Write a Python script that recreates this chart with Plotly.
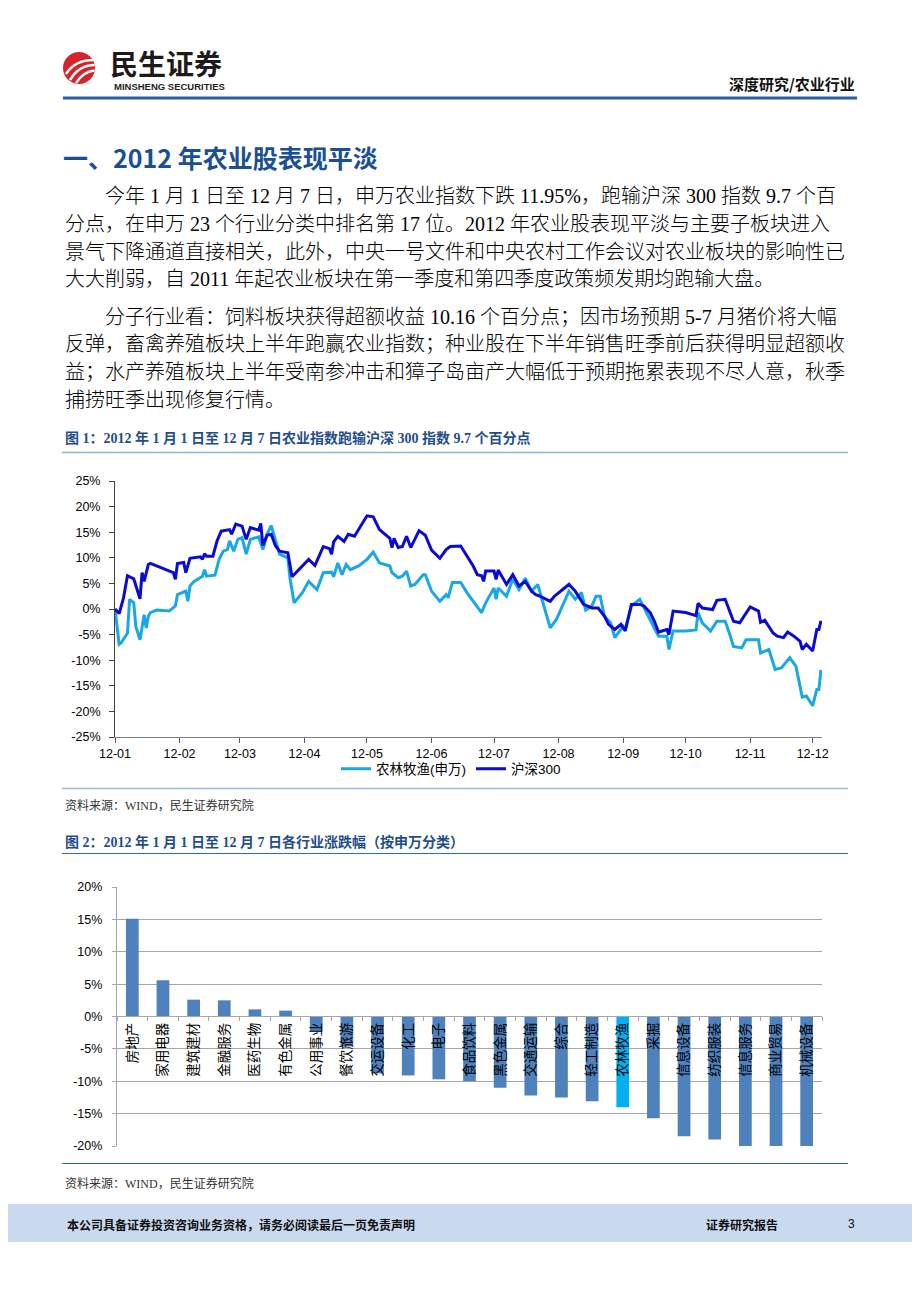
import plotly.graph_objects as go

# ---------------- data ----------------
# Figure 1: cumulative change since 2012-01-01 (%)
ag_dates = ["2012-01-01","2012-01-03","2012-01-04","2012-01-07","2012-01-08","2012-01-10","2012-01-11","2012-01-13",
            "2012-01-15","2012-01-16","2012-01-17","2012-01-18","2012-01-21","2012-01-27","2012-01-30","2012-01-31",
            "2012-02-04","2012-02-05","2012-02-06","2012-02-08","2012-02-12","2012-02-13","2012-02-14","2012-02-18",
            "2012-02-20","2012-02-22","2012-02-24","2012-02-25","2012-02-27","2012-02-29","2012-03-02","2012-03-04",
            "2012-03-06","2012-03-10","2012-03-12","2012-03-14","2012-03-16","2012-03-18","2012-03-20","2012-03-24",
            "2012-03-25","2012-03-27","2012-03-31","2012-04-03","2012-04-07","2012-04-10","2012-04-14","2012-04-15",
            "2012-04-17","2012-04-19","2012-04-21","2012-04-23","2012-04-27","2012-05-01","2012-05-04","2012-05-07",
            "2012-05-12","2012-05-13","2012-05-16","2012-05-18","2012-05-20","2012-05-22","2012-05-24","2012-05-28",
            "2012-05-29","2012-06-01","2012-06-05","2012-06-08","2012-06-09","2012-06-11","2012-06-15","2012-06-18",
            "2012-06-22","2012-06-25","2012-06-27","2012-07-01","2012-07-02","2012-07-03","2012-07-07","2012-07-10",
            "2012-07-13","2012-07-16","2012-07-19","2012-07-22","2012-07-24","2012-07-28","2012-07-31","2012-08-06",
            "2012-08-09","2012-08-12","2012-08-14","2012-08-17","2012-08-19","2012-08-21","2012-08-23","2012-08-26",
            "2012-08-28","2012-09-01","2012-09-02","2012-09-05","2012-09-09","2012-09-12","2012-09-15","2012-09-18",
            "2012-09-22","2012-09-23","2012-09-25","2012-10-01","2012-10-06","2012-10-07","2012-10-09","2012-10-13",
            "2012-10-16","2012-10-20","2012-10-22","2012-10-24","2012-10-28","2012-10-30","2012-11-05","2012-11-06",
            "2012-11-10","2012-11-13","2012-11-16","2012-11-20","2012-11-23","2012-11-25","2012-11-26","2012-11-28",
            "2012-12-01","2012-12-03","2012-12-04","2012-12-05"]
ag_vals = [0.0,-6.9,-6.6,-4.7,1.9,1.2,-3.4,-6.0,
           -1.1,-3.7,-1.4,-0.7,-0.2,-0.4,0.6,2.8,
           3.5,1.5,4.5,5.4,6.4,7.7,6.4,6.6,
           9.7,11.3,11.6,13.3,11.3,13.6,13.9,10.7,
           13.6,14.1,11.6,14.6,16.3,13.3,10.7,10.0,
           6.1,1.2,3.2,5.4,3.8,7.1,7.2,6.3,
           9.0,6.7,8.7,7.7,8.4,9.7,11.1,9.0,
           8.4,7.1,6.1,6.4,7.4,4.5,4.8,6.7,
           6.7,3.5,1.5,2.8,2.2,5.2,5.2,3.2,
           0.9,-0.7,1.2,4.1,1.9,4.1,2.5,5.8,
           3.8,6.0,3.5,4.8,1.9,-3.7,-2.0,3.5,
           1.9,3.2,-0.2,0.6,2.5,2.5,-1.4,-2.7,
           -5.6,-3.4,-4.0,0.6,1.9,-0.4,-2.7,-5.3,
           -5.3,-7.9,-4.3,-4.3,-4.1,-0.7,-2.7,-4.3,
           -2.4,-2.4,-4.7,-7.3,-7.6,-6.0,-6.0,-8.6,
           -7.9,-11.8,-11.5,-9.5,-11.2,-15.7,-17.2,-17.0,
           -18.9,-15.7,-15.7,-11.9]

hs_dates = ["2012-01-01","2012-01-03","2012-01-05","2012-01-07","2012-01-10","2012-01-13","2012-01-14","2012-01-15",
            "2012-01-17","2012-01-18","2012-01-29","2012-01-30","2012-01-31","2012-02-03","2012-02-04","2012-02-06",
            "2012-02-11","2012-02-12","2012-02-13","2012-02-14","2012-02-17","2012-02-19","2012-02-21","2012-02-25",
            "2012-02-26","2012-02-28","2012-03-02","2012-03-04","2012-03-06","2012-03-10","2012-03-11","2012-03-12",
            "2012-03-14","2012-03-16","2012-03-18","2012-03-20","2012-03-24","2012-03-25","2012-03-26","2012-04-03",
            "2012-04-06","2012-04-10","2012-04-13","2012-04-14","2012-04-15","2012-04-17","2012-04-20","2012-04-22",
            "2012-04-25","2012-05-01","2012-05-04","2012-05-07","2012-05-12","2012-05-13","2012-05-14","2012-05-16",
            "2012-05-18","2012-05-20","2012-05-22","2012-05-26","2012-05-29","2012-06-01","2012-06-05","2012-06-08",
            "2012-06-10","2012-06-15","2012-06-18","2012-06-21","2012-06-23","2012-06-25","2012-06-26","2012-06-27",
            "2012-07-01","2012-07-02","2012-07-03","2012-07-07","2012-07-10","2012-07-13","2012-07-16","2012-07-19",
            "2012-07-21","2012-07-23","2012-07-28","2012-07-30","2012-08-03","2012-08-06","2012-08-09","2012-08-13",
            "2012-08-17","2012-08-20","2012-08-23","2012-08-25","2012-08-28","2012-08-31","2012-09-02","2012-09-05",
            "2012-09-09","2012-09-11","2012-09-14","2012-09-16","2012-09-18","2012-09-22","2012-09-23","2012-09-25",
            "2012-10-01","2012-10-06","2012-10-07","2012-10-09","2012-10-14","2012-10-16","2012-10-20","2012-10-22",
            "2012-10-24","2012-10-27","2012-10-29","2012-11-01","2012-11-05","2012-11-06","2012-11-08","2012-11-12",
            "2012-11-14","2012-11-17","2012-11-19","2012-11-22","2012-11-25","2012-11-26","2012-11-28","2012-12-01",
            "2012-12-03","2012-12-04","2012-12-05"]
hs_vals = [0.0,-0.9,2.0,6.5,5.9,2.0,7.1,5.4,
           8.7,8.9,7.1,5.8,8.9,9.1,7.1,9.9,
           10.2,9.7,10.8,10.3,10.3,13.3,15.2,15.5,
           14.6,16.6,16.2,13.6,15.9,15.4,16.7,12.4,
           14.4,14.6,12.4,11.3,11.0,8.4,6.3,9.7,
           8.5,12.2,11.8,10.7,13.1,14.2,13.2,14.6,
           14.2,18.2,18.0,15.5,13.8,12.0,13.8,12.0,
           12.2,14.2,12.0,15.3,14.4,11.5,9.9,11.6,
           12.2,12.3,10.3,8.4,6.7,6.5,5.4,7.4,
           7.4,5.8,7.6,4.8,6.7,4.5,5.4,3.5,
           2.8,2.5,1.5,2.5,3.8,4.8,3.5,0.9,
           0.2,0.2,-1.4,-3.0,-4.0,-3.0,-4.3,0.9,
           0.9,0.6,-0.7,-2.4,-4.5,-4.0,-5.0,-0.4,
           -0.7,-1.3,1.1,0.2,-0.1,1.7,1.9,-0.1,
           -2.4,-2.7,-1.4,0.4,-0.4,-2.6,-2.2,-4.7,
           -5.3,-5.6,-4.5,-5.3,-6.3,-7.9,-6.9,-8.2,
           -4.0,-4.0,-2.3]

series_names = ["农林牧渔(申万)", "沪深300"]

fig1_yticks = [-25, -20, -15, -10, -5, 0, 5, 10, 15, 20, 25]
fig1_yticklabels = ["-25%", "-20%", "-15%", "-10%", "-5%", "0%", "5%", "10%", "15%", "20%", "25%"]

# Figure 2: change by Shenwan industry (%)
industries = ["房地产","家用电器","建筑建材","金融服务","医药生物","有色金属","公用事业","餐饮旅游",
              "交运设备","化工","电子","食品饮料","黑色金属","交通运输","综合","轻工制造",
              "农林牧渔","采掘","信息设备","纺织服装","信息服务","商业贸易","机械设备"]
industry_chg = [15.1, 5.6, 2.6, 2.5, 1.1, 0.9, -2.3, -4.6,
                -8.8, -9.1, -9.7, -10.0, -11.0, -12.2, -12.5, -13.1,
                -14.0, -15.7, -18.5, -19.0, -20.2, -20.2, -20.2]
highlight = "农林牧渔"

fig2_yticks = [-20, -15, -10, -5, 0, 5, 10, 15, 20]
fig2_yticklabels = ["-20%", "-15%", "-10%", "-5%", "0%", "5%", "10%", "15%", "20%"]

# ---------------- page text ----------------
heading = "一、2012 年农业股表现平淡"
para1 = ["今年 1 月 1 日至 12 月 7 日，申万农业指数下跌 11.95%，跑输沪深 300 指数 9.7 个百",
         "分点，在申万 23 个行业分类中排名第 17 位。2012 年农业股表现平淡与主要子板块进入",
         "景气下降通道直接相关，此外，中央一号文件和中央农村工作会议对农业板块的影响性已",
         "大大削弱，自 2011 年起农业板块在第一季度和第四季度政策频发期均跑输大盘。"]
para2 = ["分子行业看：饲料板块获得超额收益 10.16 个百分点；因市场预期 5-7 月猪价将大幅",
         "反弹，畜禽养殖板块上半年跑赢农业指数；种业股在下半年销售旺季前后获得明显超额收",
         "益；水产养殖板块上半年受南参冲击和獐子岛亩产大幅低于预期拖累表现不尽人意，秋季",
         "捕捞旺季出现修复行情。"]
title1 = "图 1：2012 年 1 月 1 日至 12 月 7 日农业指数跑输沪深 300 指数 9.7 个百分点"
title2 = "图 2：2012 年 1 月 1 日至 12 月 7 日各行业涨跌幅（按申万分类）"
source = "资料来源：WIND，民生证券研究院"

# ---------------- helpers ----------------
# the page body has an 8px margin, so the figure is drawn 8px in from the window's corner
OFF = 8
W, H = 920 - OFF, 1302 - OFF
def px(x): return (x - OFF) / W
def py(y): return 1 - (y - OFF) / H

SERIF = "Liberation Serif, Noto Sans CJK SC, serif"
SANS = "Liberation Sans, Noto Sans CJK SC, sans-serif"
CJK = "Noto Sans CJK SC, sans-serif"

fig = go.Figure()

fig.add_trace(go.Scatter(x=ag_dates, y=ag_vals, name=series_names[0], mode="lines",
                         line=dict(color="#1AA8E5", width=3), xaxis="x", yaxis="y"))
fig.add_trace(go.Scatter(x=hs_dates, y=hs_vals, name=series_names[1], mode="lines",
                         line=dict(color="#0A0AD2", width=3), xaxis="x", yaxis="y"))

bar_colors = ["#00B0F0" if n == highlight else "#4F81BD" for n in industries]
fig.add_trace(go.Bar(x=industries, y=industry_chg, marker=dict(color=bar_colors, line=dict(width=0)),
                     xaxis="x2", yaxis="y2", showlegend=False))

annotations = []
def text(s, x, y, size, color="#000000", family=SERIF, xanchor="left", bold=False, weight=None):
    t = f"<b>{s}</b>" if bold else s
    f = dict(size=size, color=color, family=family)
    if weight:
        f["weight"] = weight
    annotations.append(dict(text=t, x=px(x), y=py(y), xref="paper", yref="paper",
                            xanchor=xanchor, yanchor="middle", showarrow=False, font=f,
                            borderpad=0))

# header
text("民生证券", 109, 63, 28, color="#1E1A1B", family=CJK, bold=True)
text("MINSHENG SECURITIES", 113, 87, 9.5, color="#231F20",
     family="Liberation Sans Narrow, Liberation Sans, sans-serif", bold=True)
text("深度研究/农业行业", 856, 83, 15, color="#111111", family=CJK, xanchor="right", bold=True)

# heading + body
text(heading, 62, 157, 25, color="#1B4F93", family="Liberation Sans Narrow, Noto Sans CJK SC, sans-serif", bold=True)
body_y1 = [196, 224, 252, 279]
body_y2 = [317, 344, 372, 400]
for i, (s, yy) in enumerate(zip(para1, body_y1)):
    text(s, 104 if i == 0 else 64, yy, 20, family=SERIF, weight=300)
for i, (s, yy) in enumerate(zip(para2, body_y2)):
    text(s, 104 if i == 0 else 64, yy, 20, family=SERIF, weight=300)

# figure titles and sources
text(title1, 64, 438, 14, color="#1F4E8C", family=SERIF, bold=True)
text(source, 64, 805, 12, color="#333333", family=SERIF)
text(title2, 64, 842, 14, color="#1F4E8C", family=SERIF, bold=True)
text(source, 64, 1183, 12, color="#333333", family=SERIF)

# footer
text("本公司具备证券投资咨询业务资格，请务必阅读最后一页免责声明", 66, 1224, 12, color="#111111", family=CJK, bold=True)
text("证券研究报告", 705, 1224, 12, color="#111111", family=CJK, bold=True)
text("3", 856, 1224, 12, color="#111111", family=SANS, xanchor="right")

shapes = []
def hline(y, x0, x1, color, width):
    shapes.append(dict(type="line", xref="paper", yref="paper", x0=px(x0), x1=px(x1), y0=py(y), y1=py(y),
                       line=dict(color=color, width=width)))

hline(98, 63, 857, "#2A5FA5", 3)
hline(452.5, 62, 848, "#8FB2DD", 1.5)
hline(788.5, 62, 848, "#9DBCE2", 1.5)
hline(853.5, 62, 848, "#2F69AE", 1.2)
hline(1163.5, 62, 848, "#2F69AE", 1.2)

# footer band
shapes.append(dict(type="rect", xref="paper", yref="paper", x0=0, x1=1, y0=py(1242), y1=py(1204),
                   fillcolor="#C9DAEF", line=dict(width=0), layer="below"))

# logo
shapes.append(dict(type="circle", xref="paper", yref="paper", x0=px(63), x1=px(95), y0=py(84), y1=py(52),
                   fillcolor="#D7232A", line=dict(width=0)))
def qpath(p0, c, p1):
    return f"M {px(p0[0])},{py(p0[1])} Q {px(c[0])},{py(c[1])} {px(p1[0])},{py(p1[1])}"
for p0, c, p1, w in [((66, 74), (75, 60), (93, 60), 2.5),
                     ((70, 80), (79, 65), (94.5, 65), 2.5),
                     ((76, 83), (84, 71), (94.5, 70.5), 2.5)]:
    shapes.append(dict(type="path", xref="paper", yref="paper", path=qpath(p0, c, p1),
                       line=dict(color="white", width=w)))

axis_font = dict(family="Liberation Sans, Arial, sans-serif", size=12.5, color="#000000")

fig.update_layout(
    template="none",
    width=W, height=H, margin=dict(l=0, r=0, t=0, b=0, pad=0, autoexpand=False),
    paper_bgcolor="white", plot_bgcolor="white",
    showlegend=True,
    legend=dict(orientation="h", x=px(336), y=py(769), xanchor="left", yanchor="middle",
                font=dict(family="Liberation Sans, Noto Sans CJK SC, sans-serif", size=13.5, color="#000000"),
                bgcolor="rgba(0,0,0,0)", itemwidth=30, tracegroupgap=0, borderwidth=0),
    xaxis=dict(domain=[px(115), px(822)], anchor="y", type="date", automargin=False,
               range=["2012-01-01", "2012-12-05 12:00"], dtick="M1", tick0="2012-01-01",
               tickformat="%y-%m", ticks="outside", ticklen=5, tickcolor="#595959",
               showline=True, linecolor="#7F7F7F", linewidth=1, showgrid=False, zeroline=False,
               tickfont=axis_font, fixedrange=True),
    yaxis=dict(domain=[py(737), py(481)], anchor="x", range=[-25, 25], automargin=False,
               tickmode="array", tickvals=fig1_yticks, ticktext=fig1_yticklabels,
               ticks="outside", ticklen=5, tickcolor="#404040", showline=True, linecolor="#404040",
               linewidth=1, showgrid=False, zeroline=False, tickfont=axis_font, ticklabelstandoff=6,
               fixedrange=True),
    xaxis2=dict(domain=[px(117), px(822)], anchor="free", position=py(1016.3), type="category",
                automargin=False,
                ticks="outside", tickson="boundaries", ticklen=4, tickcolor="#A6A6A6",
                showline=True, linecolor="#A6A6A6", linewidth=1.3, showgrid=False, zeroline=False,
                tickangle=-90, tickfont=dict(family=CJK, size=13.5, color="#000000"), fixedrange=True),
    yaxis2=dict(domain=[py(1146), py(887)], anchor="x2", range=[-20, 20], automargin=False,
                tickmode="array", tickvals=fig2_yticks, ticktext=fig2_yticklabels,
                ticks="outside", ticklen=4, tickcolor="#A6A6A6", showline=True, linecolor="#A6A6A6",
                linewidth=1.3, showgrid=True, gridcolor="#A6A6A6", gridwidth=1.3, zeroline=False,
                tickfont=axis_font, ticklabelstandoff=7, fixedrange=True),
    bargap=0.585,
    annotations=annotations,
    shapes=shapes,
)

fig.write_html("out.html")
